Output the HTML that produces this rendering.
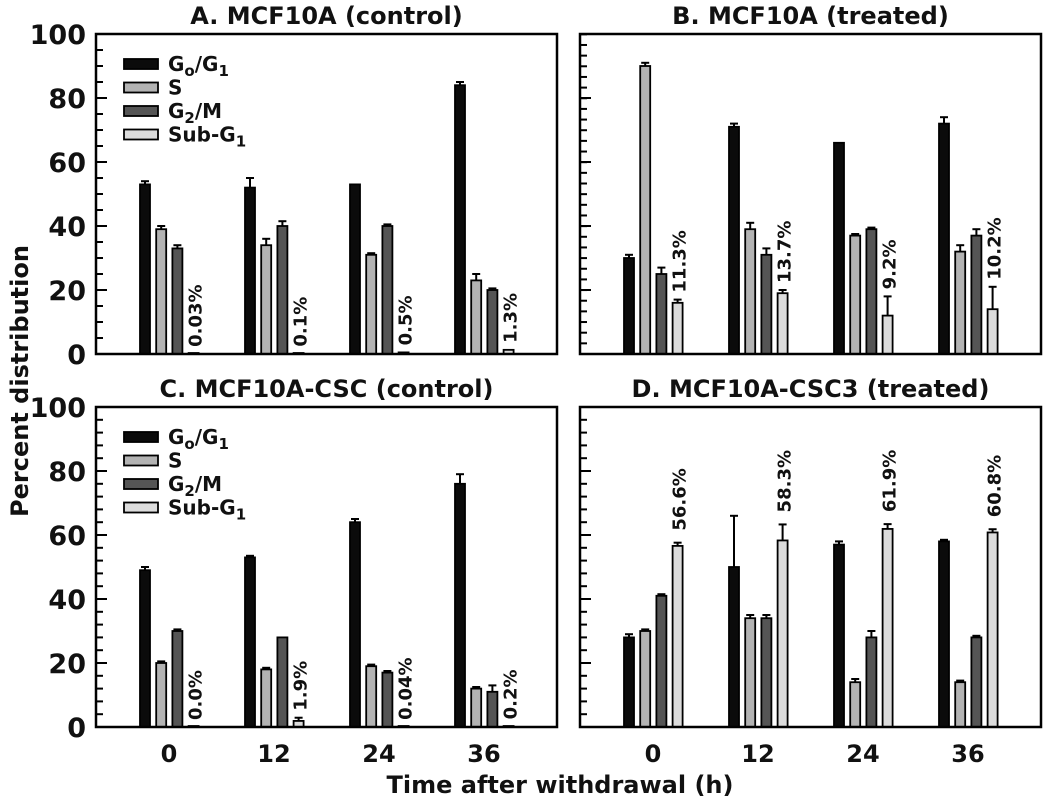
<!DOCTYPE html>
<html><head><meta charset="utf-8"><style>
body{margin:0;background:#fff}
svg text{font-family:"DejaVu Sans","Liberation Sans",sans-serif;font-weight:bold;fill:#111}
</style></head><body>
<svg id="chart" width="1050" height="800" viewBox="0 0 1050 800" xmlns="http://www.w3.org/2000/svg"></svg>
<script>
const categories = ["0","12","24","36"];
const phases = ["G0/G1","S","G2/M","Sub-G1"];
const panelTitles = ["A. MCF10A (control)","B. MCF10A (treated)","C. MCF10A-CSC (control)","D. MCF10A-CSC3 (treated)"];
const yTicks = [0,20,40,60,80,100];
// values per panel: [G0/G1, S, G2/M, Sub-G1] per time point
const aValues = [[53,52,53,84],[39,34,31,23],[33,40,40,20],[0.03,0.1,0.5,1.3]];
const aErrors = [[1,3,0,1],[1,2,0.5,2],[1,1.5,0.5,0.5],[0,0,0,0]];
const bValues = [[30,71,66,72],[90,39,37,32],[25,31,39,37],[16,19,12,14]];
const bErrors = [[1,1,0,2],[1,2,0.5,2],[2,2,0.5,2],[1,1,6,7]];
const cValues = [[49,53,64,76],[20,18,19,12],[30,28,17,11],[0,1.9,0.04,0.2]];
const cErrors = [[1,0.5,1,3],[0.5,0.5,0.5,0.5],[0.5,0,0.5,2],[0,1,0,0]];
const dValues = [[28,50,57,58],[30,34,14,14],[41,34,28,28],[56.6,58.3,61.9,60.8]];
const dErrors = [[1,16,1,0.5],[0.5,1,1,0.5],[0.5,1,2,0.5],[1,5,1.5,1]];
const subLabels = [["0.03%","0.1%","0.5%","1.3%"],["11.3%","13.7%","9.2%","10.2%"],["0.0%","1.9%","0.04%","0.2%"],["56.6%","58.3%","61.9%","60.8%"]];

const svg=document.getElementById('chart');
const NS="http://www.w3.org/2000/svg";
function mk(tag,attrs,parent){const e=document.createElementNS(NS,tag);for(const k in attrs)e.setAttribute(k,attrs[k]);(parent||svg).appendChild(e);return e;}
const fills=["#0b0b0b","#b3b3b3","#555555","#dcdcdc"];
const panels=[
 {x0:96,x1:557,y0:34,y1:354,v:aValues,e:aErrors,leg:true,labels:true,xl:false,minor:5},
 {x0:580,x1:1041,y0:34,y1:354,v:bValues,e:bErrors,leg:false,labels:false,xl:false,minor:3.33},
 {x0:96,x1:557,y0:407,y1:727,v:cValues,e:cErrors,leg:true,labels:true,xl:true,minor:4},
 {x0:580,x1:1041,y0:407,y1:727,v:dValues,e:dErrors,leg:false,labels:false,xl:true,minor:4}];
panels.forEach((p,pi)=>{
 const g=mk('g',{});
 
 
 const y=v=>p.y1-(v/100)*(p.y1-p.y0);
 const gx=i=>p.x0+73+i*105;
 const t=mk('text',{x:(p.x0+p.x1)/2,y:p.y0-10,'text-anchor':'middle','font-size':24},g);t.textContent=panelTitles[pi];
 
 
 for(let v=0;v<=100.01;v+=p.minor){mk('line',{x1:p.x0,x2:p.x0+7,y1:y(v),y2:y(v),stroke:'#000','stroke-width':2},g);}
 yTicks.forEach(v=>{mk('line',{x1:p.x0,x2:p.x0+11,y1:y(v),y2:y(v),stroke:'#000','stroke-width':2},g);
  if(p.labels){const tl=mk('text',{x:p.x0-10,y:y(v)+10,'text-anchor':'end','font-size':27},g);tl.textContent=v;
   
   }});
 if(p.xl)categories.forEach((c,i)=>{const tl=mk('text',{x:gx(i)+0,y:p.y1+35,'text-anchor':'middle','font-size':24},g);tl.textContent=c;
   
   });
 categories.forEach((c,i)=>{
  for(let s=0;s<4;s++){
   const val=p.v[s][i],err=p.e[s][i];
   const bx=gx(i)-29+s*16.2;
   if(err>0){const ty=y(val+err);mk('line',{x1:bx+5,x2:bx+5,y1:y(val),y2:ty,stroke:'#000','stroke-width':2},g);
     mk('line',{x1:bx+1,x2:bx+9,y1:ty,y2:ty,stroke:'#000','stroke-width':2},g);}
   const h=Math.max(p.y1-y(val),1);
   const r=mk('rect',{x:bx,y:p.y1-h,width:10,height:h,fill:fills[s],stroke:'#000','stroke-width':1.8},g);
   
   
   if(s===3){const topv=Math.max(val+err,0);const ly=y(topv)-(pi===3?12:7);
     const tl=mk('text',{x:bx+13,y:ly,'font-size':18,transform:`rotate(-90 ${bx+13} ${ly})`},g);tl.textContent=subLabels[pi][i];
     
     }
  }});
 mk('rect',{x:p.x0,y:p.y0,width:p.x1-p.x0,height:p.y1-p.y0,fill:'none',stroke:'#000','stroke-width':2.5},g);
 if(p.leg){
  const names=[["G","o","/G","1"],["S"],["G","2","/M"],["Sub-G","1"]];
  names.forEach((n,k)=>{const ly=p.y0+31+k*23.5;
   const sw=mk('rect',{x:p.x0+28,y:ly-6,width:34,height:10,fill:fills[k],stroke:'#000','stroke-width':1.8},g);
   
   
   const tx=mk('text',{x:p.x0+72,y:ly+6,'font-size':20},g);
   
   
   n.forEach((part,j)=>{const ts=mk('tspan',{},tx);ts.textContent=part;
     if(j%2===1){ts.setAttribute('font-size','15');ts.setAttribute('dy','5');}
     else if(j>0){ts.setAttribute('dy','-5');}});
  });
 }
});
const yl=mk('text',{x:28,y:381,'text-anchor':'middle','font-size':24,transform:'rotate(-90 28 381)'});yl.textContent="Percent distribution";


const xl=mk('text',{x:560,y:793,'text-anchor':'middle','font-size':24});xl.textContent="Time after withdrawal (h)";


</script>
</body></html>
